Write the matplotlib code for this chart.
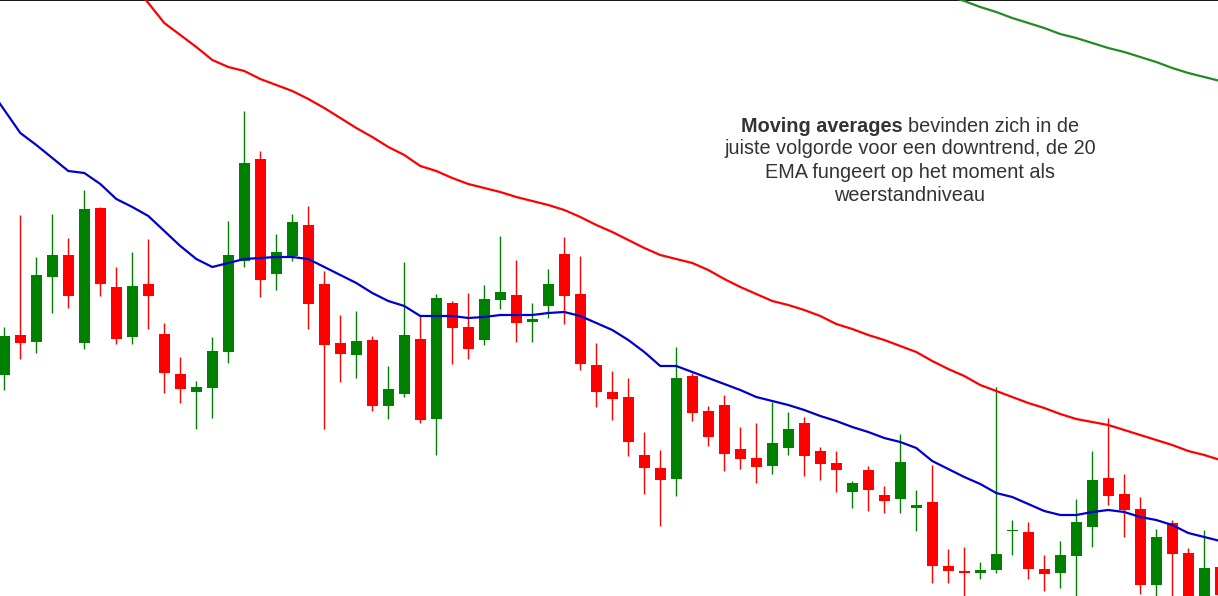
import numpy as np
import matplotlib
matplotlib.use('Agg')
import matplotlib.pyplot as plt

# candles, oldest first (price units)
opens = [225, 265, 258, 323, 345, 257, 392, 313, 263, 316, 266, 226, 208, 212, 248, 339, 441, 326, 344, 375,
         316, 257, 245, 260, 194, 206, 261, 181, 297, 273, 260, 300, 305, 278, 294, 346, 306, 235, 208, 203,
         145, 132, 121, 224, 189, 195, 151, 142, 134, 152, 177, 149, 137, 108, 130, 105, 101, 92, 98, 34,
         29, 27, 30, 69, 68, 31, 27, 44, 73, 122, 106, 91, 15, 77, 47, -5, 33]
highs = [273, 385, 343, 386, 362, 410, 393, 333, 348, 361, 277, 243, 219, 263, 379, 489, 449, 366, 386, 394,
         329, 285, 289, 264, 234, 338, 284, 306, 299, 307, 315, 364, 340, 297, 331, 363, 344, 257, 229, 222,
         168, 150, 253, 227, 194, 205, 173, 177, 198, 188, 183, 153, 149, 119, 134, 114, 166, 110, 135, 51,
         53, 38, 213, 80, 78, 45, 59, 101, 149, 182, 126, 103, 71, 80, 52, 70, 40]
lows = [210, 241, 247, 287, 292, 251, 304, 256, 256, 271, 207, 197, 171, 182, 237, 333, 303, 310, 339, 271,
        171, 218, 222, 189, 181, 203, 177, 145, 236, 241, 255, 291, 258, 258, 282, 276, 230, 193, 180, 144,
        106, 74, 104, 179, 154, 129, 131, 117, 126, 145, 124, 120, 108, 92, 89, 87, 87, 69, 17, 17,
        4, 21, 27, 45, 21, 9, 12, -5, 53, 95, 63, 6, -5, -5, -15, -10, -10]
closes = [264, 257, 325, 345, 304, 391, 316, 261, 314, 304, 227, 211, 213, 249, 345, 437, 320, 348, 378, 296,
          255, 246, 259, 194, 211, 265, 180, 302, 272, 251, 301, 308, 277, 281, 316, 304, 236, 208, 201, 158,
          132, 120, 222, 187, 163, 146, 141, 133, 157, 171, 144, 136, 130, 117, 110, 99, 138, 95, 34, 29,
          27, 30, 46, 70, 31, 26, 45, 78, 120, 104, 90, 15, 63, 46, -5, 32, 5]

# moving averages start one bar before the first visible candle
nan = np.nan
ema20 = [513, 490, 467, 455, 442, 429, 427, 416, 401, 393, 384, 369, 354, 341, 333, 337, 341, 342, 343, 343, 341,
         333, 325, 317, 307, 299, 294, 284, 284, 284, 282, 283, 285, 285, 285, 287, 288, 284, 277, 270, 260,
         248, 234, 234, 228, 222, 216, 210, 203, 199, 195, 190, 184, 179, 173, 168, 162, 158, 152, 139, 131,
         123, 116, 107, 103, 96, 89, 85, 85, 88, 90, 88, 83, 80, 75, 67, 63, 59]
ema50 = [nan] * 8 + [636, 616, 597, 577, 565, 553, 540, 533, 529, 521, 515, 509, 501,
                     492, 482, 472, 463, 453, 445, 434, 429, 422, 416, 412, 408, 403, 399, 395, 390, 383, 375, 368, 360,
                     352, 345, 341, 337, 330, 321, 313, 306, 299, 295, 290, 284, 276, 271, 265, 260, 254, 248, 239, 231,
                     224, 215, 209, 203, 197, 192, 186, 181, 178, 175, 170, 165, 160, 155, 149, 145, 140]
ema200 = [nan] * 60 + [604, 599, 593, 588, 582, 577, 572, 566, 562, 557, 552, 548, 543, 538, 532, 527, 523, 519]

UP = '#008000'
DOWN = '#ff0000'

fig = plt.figure(figsize=(12.18, 5.96), dpi=100)
ax = fig.add_axes([0, 0, 1, 1])

o = np.array(opens, float)
h = np.array(highs, float)
l = np.array(lows, float)
c = np.array(closes, float)
x = np.arange(len(o))
xm = np.arange(-1, len(o))
colors = np.where(c >= o, UP, DOWN)

ax.vlines(x, l, h, colors=colors, lw=1.0, zorder=2)
ax.bar(x, np.maximum(np.abs(c - o), 1.0), bottom=np.minimum(o, c), width=0.69,
       color=colors, edgecolor='none', zorder=3)

ax.plot(xm, ema20, color='#0000cd', lw=1.6, zorder=4)
ax.plot(xm, ema50, color='#ff0000', lw=1.6, zorder=4)
ax.plot(xm, ema200, color='#228b22', lw=1.6, zorder=4)

ax.set_xlim(-0.27, 75.86)
ax.set_ylim(4, 600)
ax.set_xticks([])
ax.set_yticks([])
for side in ['left', 'right', 'bottom']:
    ax.spines[side].set_visible(False)
ax.spines['top'].set_linewidth(1.3)

# annotation
W, H = 1218, 596
cx = 910
fs = 14.3
tc = '#333333'
fam = ['Liberation Sans', 'DejaVu Sans']
fig.canvas.draw()
r = fig.canvas.get_renderer()
t1 = fig.text(0, 1 - 126 / H, "Moving averages", fontsize=fs, weight='bold', color=tc,
              family=fam, ha='left', va='center')
t2 = fig.text(0, 1 - 126 / H, "bevinden zich in de", fontsize=fs, color=tc,
              family=fam, ha='left', va='center')
w1 = t1.get_window_extent(r).width
w2 = t2.get_window_extent(r).width
gap = 5
left = cx - (w1 + gap + w2) / 2
t1.set_x(left / W)
t2.set_x((left + w1 + gap) / W)
for txt, yy in [("juiste volgorde voor een downtrend, de 20", 149),
                ("EMA fungeert op het moment als", 172),
                ("weerstandniveau", 195)]:
    fig.text(cx / W, 1 - yy / H, txt, fontsize=fs, color=tc, family=fam, ha='center', va='center')

fig.savefig('out.png', dpi=100, facecolor='white')
